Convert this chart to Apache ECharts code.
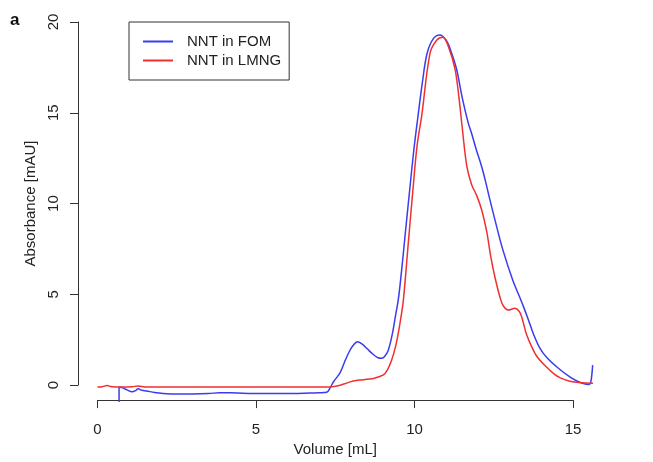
<!DOCTYPE html>
<html>
<head>
<meta charset="utf-8">
<style>
html,body{margin:0;padding:0;background:#fff;}
#chart{width:653px;height:462px;}
</style>
<script src="https://cdn.jsdelivr.net/npm/echarts@6/dist/echarts.min.js"></script>
</head>
<body>
<div id="chart"></div>
<script>
// Data
var seriesNames = ['NNT in FOM', 'NNT in LMNG'];
var xTicks = [0, 5, 10, 15];
var yTicks = [0, 5, 10, 15, 20];

var volumeFOM = [0.68, 0.68, 0.8, 0.93, 1.09, 1.2, 1.28, 1.4, 1.55, 1.8, 2.07, 2.5, 3.0, 3.5, 3.86, 4.4, 4.9, 5.5, 6.17, 6.7, 7.0, 7.23, 7.33, 7.45, 7.65, 7.8, 7.96, 8.1, 8.2, 8.35, 8.49, 8.7, 8.85, 8.95, 9.05, 9.17, 9.3, 9.4, 9.49, 9.6, 9.72, 9.86, 9.98, 10.1, 10.25, 10.4, 10.6, 10.8, 11.0, 11.15, 11.33, 11.5, 11.69, 11.8, 11.95, 12.12, 12.25, 12.38, 12.59, 12.79, 13.1, 13.3, 13.45, 13.6, 13.74, 13.95, 14.18, 14.53, 14.9, 15.12, 15.38, 15.5, 15.56, 15.62];
var absFOM = [-0.82, 0.0, -0.05, -0.16, -0.26, -0.2, -0.1, -0.18, -0.22, -0.3, -0.35, -0.38, -0.38, -0.36, -0.31, -0.33, -0.35, -0.35, -0.35, -0.33, -0.32, -0.29, -0.07, 0.3, 0.77, 1.4, 2.0, 2.35, 2.48, 2.35, 2.12, 1.78, 1.6, 1.57, 1.66, 2.0, 2.9, 3.9, 4.8, 6.5, 8.6, 11.0, 13.0, 14.7, 16.7, 18.3, 19.1, 19.29, 19.0, 18.4, 17.4, 15.9, 14.5, 13.9, 13.0, 12.07, 11.2, 10.25, 8.8, 7.5, 5.85, 5.0, 4.35, 3.65, 2.96, 2.15, 1.6, 1.04, 0.55, 0.33, 0.16, 0.14, 0.25, 1.2];

var volumeLMNG = [0.0, 0.15, 0.3, 0.45, 0.8, 1.1, 1.28, 1.5, 2.5, 3.5, 4.5, 5.5, 6.5, 7.3, 7.55, 7.8, 8.07, 8.4, 8.7, 9.02, 9.15, 9.28, 9.4, 9.49, 9.57, 9.65, 9.8, 9.95, 10.08, 10.23, 10.49, 10.7, 10.89, 11.1, 11.28, 11.4, 11.5, 11.65, 11.8, 11.96, 12.12, 12.28, 12.4, 12.54, 12.7, 12.8, 12.96, 13.17, 13.3, 13.38, 13.45, 13.54, 13.7, 13.85, 14.1, 14.38, 14.6, 14.9, 15.2, 15.63];
var absLMNG = [0.0, 0.02, 0.08, 0.02, 0.0, 0.02, 0.05, 0.0, 0.0, 0.0, 0.0, 0.0, 0.0, 0.0, 0.05, 0.18, 0.33, 0.4, 0.47, 0.66, 0.95, 1.48, 2.2, 2.96, 3.8, 4.77, 7.8, 10.8, 13.2, 14.9, 18.3, 19.0, 19.16, 18.5, 17.4, 15.9, 14.3, 12.1, 11.1, 10.5, 9.7, 8.5, 7.2, 6.0, 4.9, 4.45, 4.22, 4.31, 4.15, 3.85, 3.4, 2.85, 2.2, 1.7, 1.2, 0.75, 0.5, 0.32, 0.24, 0.2];

function pairs(xs, ys) {
  var out = [];
  for (var i = 0; i < xs.length; i++) out.push([xs[i], ys[i]]);
  return out;
}

var FONT = '"Liberation Sans", Arial, Helvetica, sans-serif';
var INK = '#222';
var BLUE = '#3b3bf0';
var RED = '#f03030';

// layout: 0..15 mL spans x 97.5..573 px, 0..20 mAU spans y 387..22 px
var W = 653, H = 462;
var xL = 97.5, xR = 573, yT = 22, yB = 387;
var pxPerX = (xR - xL) / 15, pxPerY = (yB - yT) / 20;
var dataXMax = 16, dataYMin = -1;

var chart = echarts.init(document.getElementById('chart'), null, {renderer: 'canvas'});
chart.setOption({
  animation: false,
  backgroundColor: '#fff',
  title: {
    text: 'a', left: 10, top: 12, padding: 0,
    textStyle: {fontFamily: FONT, fontSize: 17, fontWeight: 'bold', color: '#111'}
  },
  legend: {
    orient: 'vertical',
    left: 129, top: 22,
    padding: [11, 8, 11, 14],
    borderColor: '#333', borderWidth: 1,
    itemWidth: 30, itemHeight: 2, itemGap: 2,
    textStyle: {fontFamily: FONT, fontSize: 15, color: INK, lineHeight: 17, padding: [0, 0, 0, 9]},
    data: [{name: seriesNames[0], icon: 'rect'}, {name: seriesNames[1], icon: 'rect'}]
  },
  grid: [
    // visible axes grid
    {left: xL, right: W - xR, top: yT, bottom: H - yB},
    // data grid (same scale, wider range)
    {left: xL, right: W - (xL + dataXMax * pxPerX), top: yT, bottom: H - (yB - dataYMin * pxPerY)}
  ],
  xAxis: [
    {
      gridIndex: 0, type: 'value', min: xTicks[0], max: xTicks[xTicks.length - 1], interval: 5,
      name: 'Volume [mL]', nameLocation: 'middle', nameGap: 41,
      nameTextStyle: {fontFamily: FONT, fontSize: 15, color: INK},
      offset: 15,
      axisLine: {show: true, onZero: false, lineStyle: {color: '#333', width: 1}},
      axisTick: {show: true, length: 8, lineStyle: {color: '#333'}},
      axisLabel: {fontFamily: FONT, fontSize: 15, color: INK, margin: 22},
      splitLine: {show: false}
    },
    {
      gridIndex: 1, type: 'value', min: 0, max: dataXMax, show: false,
      splitLine: {show: false}
    }
  ],
  yAxis: [
    {
      gridIndex: 0, type: 'value', min: yTicks[0], max: yTicks[yTicks.length - 1], interval: 5,
      name: 'Absorbance [mAU]', nameLocation: 'middle', nameGap: 26,
      nameTextStyle: {fontFamily: FONT, fontSize: 15, color: INK},
      offset: 19.5,
      axisLine: {show: true, onZero: false, lineStyle: {color: '#333', width: 1}},
      axisTick: {show: true, length: 8, lineStyle: {color: '#333'}},
      axisLabel: {fontFamily: FONT, fontSize: 15, color: INK, margin: 17, rotate: 90},
      splitLine: {show: false}
    },
    {
      gridIndex: 1, type: 'value', min: dataYMin, max: 20, show: false,
      splitLine: {show: false}
    }
  ],
  series: [
    {
      name: seriesNames[0], type: 'line', xAxisIndex: 1, yAxisIndex: 1,
      data: pairs(volumeFOM, absFOM),
      showSymbol: false, symbol: 'none', clip: false, smooth: 0.35,
      color: BLUE, lineStyle: {color: BLUE, width: 1.5}
    },
    {
      name: seriesNames[1], type: 'line', xAxisIndex: 1, yAxisIndex: 1,
      data: pairs(volumeLMNG, absLMNG),
      showSymbol: false, symbol: 'none', clip: false, smooth: 0.35,
      color: RED, lineStyle: {color: RED, width: 1.5}
    }
  ]
});
</script>
</body>
</html>
